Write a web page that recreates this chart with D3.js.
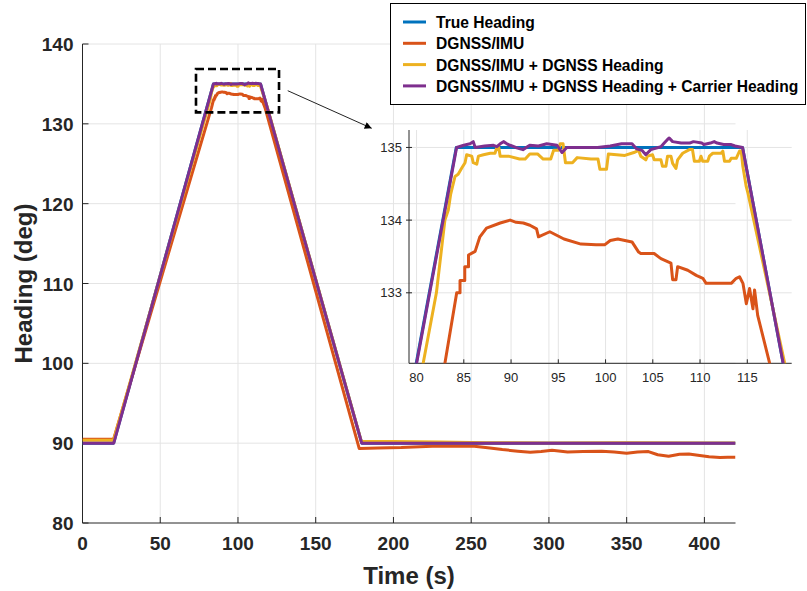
<!DOCTYPE html>
<html lang="en">
<head>
    <meta charset="UTF-8">
    <title>Heading comparison</title>
    <script src="https://d3js.org/d3.v7.min.js"></script>
    <style>
        body { margin: 0; background: #fff; }
        svg { display: block; font-family: Arial, "Liberation Sans", sans-serif; }
        .grid line { stroke: #e4e4e4; stroke-width: 1; }
        .axis-line { stroke: #262626; stroke-width: 1; }
        .tick-main { font-size: 19px; font-weight: bold; fill: #262626; }
        .tick-inset { font-size: 13px; fill: #262626; }
        .label { font-size: 24px; font-weight: bold; fill: #262626; }
        .legend-text { font-size: 15.6px; font-weight: bold; fill: #000; }
    </style>
</head>
<body>
<div id="chart"></div>
<script>
    // series: [time (s), heading (deg)]
    const trueHeading = [[0, 90], [20, 90], [84.2, 135], [114.5, 135], [179.6, 90], [420, 90]];

    const dgnssImu = [[0, 90.5], [20, 90.5], [83.0, 132.03], [84.25, 133.0], [84.6, 133.0], [84.6, 133.17], [85.1, 133.17],
        [85.1, 133.36], [85.5, 133.36], [85.5, 133.52], [86.2, 133.57], [86.7, 133.77], [87.4, 133.89], [88.85, 133.96],
        [89.9, 134.0], [90.54, 133.97], [91.3, 133.96], [92.0, 133.93], [92.7, 133.88], [92.9, 133.77], [94.1, 133.84],
        [95.6, 133.74], [97.4, 133.67], [99.0, 133.66], [99.9, 133.66], [100.5, 133.72], [101.3, 133.74], [102.8, 133.7],
        [103.5, 133.56], [103.73, 133.54], [105.14, 133.54], [105.86, 133.47], [106.92, 133.41], [107.1, 133.18],
        [107.45, 133.18], [107.63, 133.36], [108.7, 133.31], [109.6, 133.24], [110.3, 133.2], [110.64, 133.13],
        [113.3, 133.13], [113.83, 133.2], [114.18, 133.22], [114.54, 133.13], [114.9, 132.85], [115.24, 133.06],
        [115.6, 132.78], [115.77, 133.04], [116.1, 132.69], [117.37, 132.03], [178, 89.32], [190, 89.4], [205, 89.45],
        [225, 89.62], [240, 89.65], [252, 89.62], [262, 89.4], [270, 89.2], [280, 89.0], [288, 88.85], [295, 88.95],
        [302, 89.1], [312, 88.9], [322, 88.95], [334, 89.0], [342, 88.9], [350, 88.75], [357, 88.9], [364, 88.95],
        [370, 88.55], [377, 88.35], [384, 88.6], [390, 88.65], [397, 88.45], [403, 88.3], [410, 88.2], [415, 88.25],
        [420, 88.25]];

    const dgnssHeading = [[0, 90.35], [20, 90.35], [80.7, 132.03], [82.1, 133.0], [83.0, 134.0], [83.36, 134.14],
        [83.6, 134.35], [84.07, 134.6], [84.4, 134.63], [84.8, 134.72], [85.13, 134.79], [85.3, 134.9], [85.84, 134.88],
        [86.0, 134.79], [86.37, 134.77], [86.55, 134.88], [87.08, 134.9], [87.8, 134.92], [88.3, 134.92], [88.5, 135.0],
        [88.7, 135.0], [88.85, 134.88], [89.73, 134.88], [90.9, 134.84], [91.5, 134.84], [91.98, 134.91], [92.8, 134.91],
        [93.4, 134.84], [94.2, 134.84], [94.5, 134.96], [95.0, 134.96], [95.2, 135.05], [95.5, 135.05], [95.76, 134.79],
        [96.5, 134.79], [97.0, 134.86], [98.45, 134.84], [99.2, 134.84], [99.4, 134.7], [100.1, 134.7], [100.3, 134.91],
        [102.05, 134.89], [103.0, 134.93], [103.5, 134.96], [103.73, 134.88], [104.26, 134.83], [104.44, 134.88],
        [104.97, 134.9], [105.15, 134.83], [105.86, 134.83], [106.03, 134.74], [106.39, 134.74], [106.56, 134.88],
        [106.92, 134.88], [107.1, 134.78], [107.45, 134.71], [107.63, 134.83], [108.16, 134.92], [108.87, 134.97],
        [109.2, 134.97], [109.4, 134.81], [109.93, 134.81], [110.1, 134.88], [110.28, 134.81], [110.81, 134.81],
        [110.99, 134.88], [111.35, 134.92], [112.23, 134.92], [112.41, 134.95], [112.59, 134.81], [113.12, 134.81],
        [113.3, 134.85], [113.83, 134.85], [114.18, 134.95], [114.36, 134.95], [114.53, 134.74], [114.89, 134.46],
        [115.07, 134.37], [118.96, 132.03], [179.3, 90.25], [200, 90.2], [230, 90.15], [260, 90.05], [300, 90.03],
        [350, 90.04], [400, 90.03], [420, 90.03]];

    const dgnssCarrier = [[0, 90.0], [20.1, 90.0], [84.24, 135.0], [85.0, 135.03], [85.66, 135.05], [86.0, 135.08],
        [86.2, 135.0], [87.2, 135.02], [88.14, 135.03], [88.5, 135.01], [88.85, 135.05], [89.2, 135.08], [89.56, 135.05],
        [89.9, 135.03], [90.5, 135.0], [91.26, 134.97], [91.98, 135.03], [92.9, 135.02], [93.78, 135.05], [94.86, 135.03],
        [95.4, 134.93], [95.9, 135.0], [97.5, 135.0], [99.15, 135.0], [100.5, 135.02], [101.7, 135.05], [102.8, 135.05],
        [103.3, 134.98], [103.85, 134.96], [104.26, 134.9], [104.79, 134.97], [105.86, 135.01], [106.21, 135.06],
        [106.56, 135.11], [106.74, 135.13], [107.1, 135.08], [108.0, 135.06], [108.9, 135.06], [109.3, 135.08],
        [110.2, 135.06], [110.4, 135.04], [111.1, 135.06], [111.5, 135.08], [111.8, 135.06], [112.5, 135.04],
        [113.3, 135.04], [113.7, 135.02], [114.5, 135.0], [118.8, 132.03], [179.6, 90.0], [200, 89.98], [250, 90.0],
        [300, 89.98], [350, 90.0], [420, 90.0]];

    const seriesNames = ["True Heading", "DGNSS/IMU", "DGNSS/IMU + DGNSS Heading",
        "DGNSS/IMU + DGNSS Heading + Carrier Heading"];
    const seriesColors = ["#0072BD", "#D95319", "#EDB120", "#7E2F8E"];
    const allSeries = [trueHeading, dgnssImu, dgnssHeading, dgnssCarrier];

    const xTicks = [0, 50, 100, 150, 200, 250, 300, 350, 400];
    const yTicks = [80, 90, 100, 110, 120, 130, 140];
    const insetXTicks = [80, 85, 90, 95, 100, 105, 110, 115];
    const insetYTicks = [133, 134, 135];

    // zoom window [t0, t1, h0, h1] and the arrow pointing to the inset
    const zoomBox = [73.0, 126.4, 131.44, 136.87];
    const arrowPts = [[132.0, 134.15], [186.0, 129.44]];

    const width = 807, height = 591;

    const svg = d3.select("#chart").append("svg")
        .attr("width", width)
        .attr("height", height);

    svg.append("rect").attr("width", width).attr("height", height).attr("fill", "#fff");

    const x = d3.scaleLinear().domain([0, 420]).range([82.5, 735.5]);
    const y = d3.scaleLinear().domain([80, 140]).range([523, 44]);

    const xi = d3.scaleLinear().domain([79.2, 119.7]).range([409, 791.7]);
    const yi = d3.scaleLinear().domain([132.03, 135.24]).range([363.3, 130]);

    // ---- main axes ----
    const grid = svg.append("g").attr("class", "grid");
    grid.selectAll(".vx").data(xTicks.slice(1)).enter().append("line")
        .attr("x1", d => x(d)).attr("x2", d => x(d))
        .attr("y1", y(80)).attr("y2", y(140));
    grid.selectAll(".hy").data(yTicks.slice(1)).enter().append("line")
        .attr("x1", x(0)).attr("x2", x(420))
        .attr("y1", d => y(d)).attr("y2", d => y(d));

    // inset grid (inset has no background, main grid shows through)
    const igrid = svg.append("g").attr("class", "grid");
    igrid.selectAll(".vx").data(insetXTicks).enter().append("line")
        .attr("x1", d => xi(d)).attr("x2", d => xi(d))
        .attr("y1", yi.range()[0]).attr("y2", yi.range()[1]);
    igrid.selectAll(".hy").data(insetYTicks).enter().append("line")
        .attr("x1", xi.range()[0]).attr("x2", xi.range()[1])
        .attr("y1", d => yi(d)).attr("y2", d => yi(d));

    const axisG = svg.append("g");
    axisG.append("line").attr("class", "axis-line")
        .attr("x1", x(0)).attr("x2", x(420)).attr("y1", y(80)).attr("y2", y(80));
    axisG.append("line").attr("class", "axis-line")
        .attr("x1", x(0)).attr("x2", x(0)).attr("y1", y(80)).attr("y2", y(140));
    axisG.selectAll(".xt").data(xTicks).enter().append("line").attr("class", "axis-line")
        .attr("x1", d => x(d)).attr("x2", d => x(d)).attr("y1", y(80)).attr("y2", y(80) - 6);
    axisG.selectAll(".yt").data(yTicks).enter().append("line").attr("class", "axis-line")
        .attr("x1", x(0)).attr("x2", x(0) + 6).attr("y1", d => y(d)).attr("y2", d => y(d));

    axisG.selectAll(".xl").data(xTicks).enter().append("text").attr("class", "tick-main")
        .attr("x", d => x(d)).attr("y", y(80) + 27)
        .attr("text-anchor", "middle").text(d => d);
    axisG.selectAll(".yl").data(yTicks).enter().append("text").attr("class", "tick-main")
        .attr("x", x(0) - 9).attr("y", d => y(d) + 7)
        .attr("text-anchor", "end").text(d => d);

    svg.append("text").attr("class", "label")
        .attr("x", (x(0) + x(420)) / 2).attr("y", 584)
        .attr("text-anchor", "middle").text("Time (s)");
    svg.append("text").attr("class", "label")
        .attr("transform", `translate(32,${(y(80) + y(140)) / 2}) rotate(-90)`)
        .attr("text-anchor", "middle").text("Heading (deg)");

    // ---- inset axes ----
    const iax = svg.append("g");
    iax.append("line").attr("class", "axis-line")
        .attr("x1", xi.range()[0]).attr("x2", xi.range()[1]).attr("y1", yi.range()[0]).attr("y2", yi.range()[0]);
    iax.append("line").attr("class", "axis-line")
        .attr("x1", xi.range()[0]).attr("x2", xi.range()[0]).attr("y1", yi.range()[0]).attr("y2", yi.range()[1]);
    iax.selectAll(".xt").data(insetXTicks).enter().append("line").attr("class", "axis-line")
        .attr("x1", d => xi(d)).attr("x2", d => xi(d)).attr("y1", yi.range()[0]).attr("y2", yi.range()[0] - 4);
    iax.selectAll(".yt").data(insetYTicks).enter().append("line").attr("class", "axis-line")
        .attr("x1", xi.range()[0] - 3).attr("x2", xi.range()[0] + 3).attr("y1", d => yi(d)).attr("y2", d => yi(d));
    iax.selectAll(".xl").data(insetXTicks).enter().append("text").attr("class", "tick-inset")
        .attr("x", d => xi(d)).attr("y", yi.range()[0] + 19)
        .attr("text-anchor", "middle").text(d => d);
    iax.selectAll(".yl").data(insetYTicks).enter().append("text").attr("class", "tick-inset")
        .attr("x", xi.range()[0] - 7).attr("y", d => yi(d) + 4.5)
        .attr("text-anchor", "end").text(d => d);

    // ---- lines ----
    svg.append("clipPath").attr("id", "clip-main").append("rect")
        .attr("x", x(0)).attr("y", y(140)).attr("width", x(420) - x(0)).attr("height", y(80) - y(140));
    svg.append("clipPath").attr("id", "clip-inset").append("rect")
        .attr("x", xi.range()[0]).attr("y", yi.range()[1])
        .attr("width", xi.range()[1] - xi.range()[0]).attr("height", yi.range()[0] - yi.range()[1]);

    const mainLine = d3.line().x(d => x(d[0])).y(d => y(d[1]));
    const insetLine = d3.line().x(d => xi(d[0])).y(d => yi(d[1]));

    svg.append("g").attr("clip-path", "url(#clip-main)")
        .selectAll("path").data(allSeries).enter().append("path")
        .attr("d", mainLine)
        .attr("fill", "none")
        .attr("stroke", (d, i) => seriesColors[i])
        .attr("stroke-width", 3)
        .attr("stroke-linejoin", "round");

    svg.append("g").attr("clip-path", "url(#clip-inset)")
        .selectAll("path").data(allSeries).enter().append("path")
        .attr("d", insetLine)
        .attr("fill", "none")
        .attr("stroke", (d, i) => seriesColors[i])
        .attr("stroke-width", 3)
        .attr("stroke-linejoin", "round");

    // ---- zoom box and arrow ----
    svg.append("rect")
        .attr("x", x(zoomBox[0])).attr("y", y(zoomBox[3]))
        .attr("width", x(zoomBox[1]) - x(zoomBox[0]))
        .attr("height", y(zoomBox[2]) - y(zoomBox[3]))
        .attr("fill", "none").attr("stroke", "#000")
        .attr("stroke-width", 2.6).attr("stroke-dasharray", "8,4");

    svg.append("defs").append("marker")
        .attr("id", "arrowhead").attr("viewBox", "0 0 10 10")
        .attr("refX", 10).attr("refY", 5)
        .attr("markerWidth", 9).attr("markerHeight", 7)
        .attr("markerUnits", "userSpaceOnUse")
        .attr("orient", "auto")
        .append("path").attr("d", "M0,0 L10,5 L0,10 z").attr("fill", "#000");

    svg.append("line")
        .attr("x1", x(arrowPts[0][0])).attr("y1", y(arrowPts[0][1]))
        .attr("x2", x(arrowPts[1][0])).attr("y2", y(arrowPts[1][1]))
        .attr("stroke", "#222").attr("stroke-width", 1)
        .attr("marker-end", "url(#arrowhead)");

    // ---- legend ----
    const legend = svg.append("g");
    legend.append("rect")
        .attr("x", 390.5).attr("y", 3.5).attr("width", 415).attr("height", 101)
        .attr("fill", "#fff").attr("stroke", "#000").attr("stroke-width", 1);
    const rows = legend.selectAll(".row").data(seriesNames).enter().append("g")
        .attr("transform", (d, i) => `translate(0,${22 + i * 21.3})`);
    rows.append("line")
        .attr("x1", 403).attr("x2", 426).attr("y1", 0).attr("y2", 0)
        .attr("stroke", (d, i) => seriesColors[i]).attr("stroke-width", 3);
    rows.append("text").attr("class", "legend-text")
        .attr("x", 436).attr("y", 6).text(d => d);
</script>
</body>
</html>
